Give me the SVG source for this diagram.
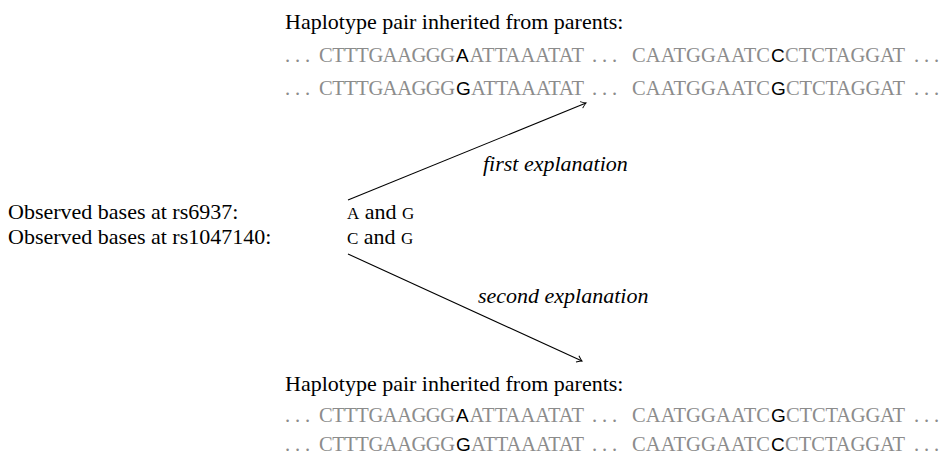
<svg xmlns="http://www.w3.org/2000/svg" width="940" height="455" viewBox="0 0 940 455">
<defs>
<style>
text{font-family:"Liberation Serif","Times New Roman",serif;font-size:22px;fill:#000}
.seq{font-size:20.5px}
.g{fill:#8c8c8c}
.b{font-family:"Liberation Sans",Arial,sans-serif;font-size:19px;fill:#000}
.sc{font-size:17px}
.it{font-style:italic}
.conn{stroke:#000;stroke-width:1.1;fill:none}
</style>
<marker id="arr" viewBox="-6 -5 8 10" markerWidth="8" markerHeight="10" refX="0" refY="0" orient="auto" markerUnits="userSpaceOnUse">
<path d="M-5,-3.5 Q-1.5,-0.6 0,0 Q-1.5,0.6 -5,3.5" stroke="#000" stroke-width="1" fill="none"/>
</marker>
</defs>
<g id="top">
<text x="285" y="29">Haplotype pair inherited from parents:</text>
<text class="seq" y="62"><tspan class="g" x="285" textLength="25">. . .</tspan><tspan class="g" x="319" textLength="136">CTTTGAAGGG</tspan><tspan class="b" x="456">A</tspan><tspan class="g" x="469.5" textLength="114.5">ATTAAATAT</tspan><tspan class="g" x="592" textLength="25">. . .</tspan><tspan class="g" x="632" textLength="138">CAATGGAATC</tspan><tspan class="b" x="771">C</tspan><tspan class="g" x="785" textLength="120">CTCTAGGAT</tspan><tspan class="g" x="914" textLength="25">. . .</tspan></text>
<text class="seq" y="95"><tspan class="g" x="285" textLength="25">. . .</tspan><tspan class="g" x="319" textLength="136">CTTTGAAGGG</tspan><tspan class="b" x="456">G</tspan><tspan class="g" x="471" textLength="113">ATTAAATAT</tspan><tspan class="g" x="592" textLength="25">. . .</tspan><tspan class="g" x="632" textLength="138">CAATGGAATC</tspan><tspan class="b" x="771">G</tspan><tspan class="g" x="786" textLength="119">CTCTAGGAT</tspan><tspan class="g" x="914" textLength="25">. . .</tspan></text>
</g>
<g id="observed">
<text x="8" y="219">Observed bases at rs6937:</text>
<text x="8" y="244">Observed bases at rs1047140:</text>
<text x="347" y="219"><tspan class="sc">A</tspan> and <tspan class="sc">G</tspan></text>
<text x="347" y="244"><tspan class="sc">C</tspan> and <tspan class="sc">G</tspan></text>
</g>
<g id="bottom">
<text x="285" y="391">Haplotype pair inherited from parents:</text>
<text class="seq" y="422"><tspan class="g" x="285" textLength="25">. . .</tspan><tspan class="g" x="319" textLength="136">CTTTGAAGGG</tspan><tspan class="b" x="456">A</tspan><tspan class="g" x="469.5" textLength="114.5">ATTAAATAT</tspan><tspan class="g" x="592" textLength="25">. . .</tspan><tspan class="g" x="632" textLength="138">CAATGGAATC</tspan><tspan class="b" x="771">G</tspan><tspan class="g" x="786" textLength="119">CTCTAGGAT</tspan><tspan class="g" x="914" textLength="25">. . .</tspan></text>
<text class="seq" y="451"><tspan class="g" x="285" textLength="25">. . .</tspan><tspan class="g" x="319" textLength="136">CTTTGAAGGG</tspan><tspan class="b" x="456">G</tspan><tspan class="g" x="471" textLength="113">ATTAAATAT</tspan><tspan class="g" x="592" textLength="25">. . .</tspan><tspan class="g" x="632" textLength="138">CAATGGAATC</tspan><tspan class="b" x="771">C</tspan><tspan class="g" x="785" textLength="120">CTCTAGGAT</tspan><tspan class="g" x="914" textLength="25">. . .</tspan></text>
</g>
<g id="connectors">
<line class="conn" x1="348" y1="200" x2="586" y2="103" marker-end="url(#arr)"/>
<line class="conn" x1="348" y1="254" x2="582" y2="361" marker-end="url(#arr)"/>
<text class="it" x="483" y="171">first explanation</text>
<text class="it" x="478" y="303">second explanation</text>
</g>
</svg>
